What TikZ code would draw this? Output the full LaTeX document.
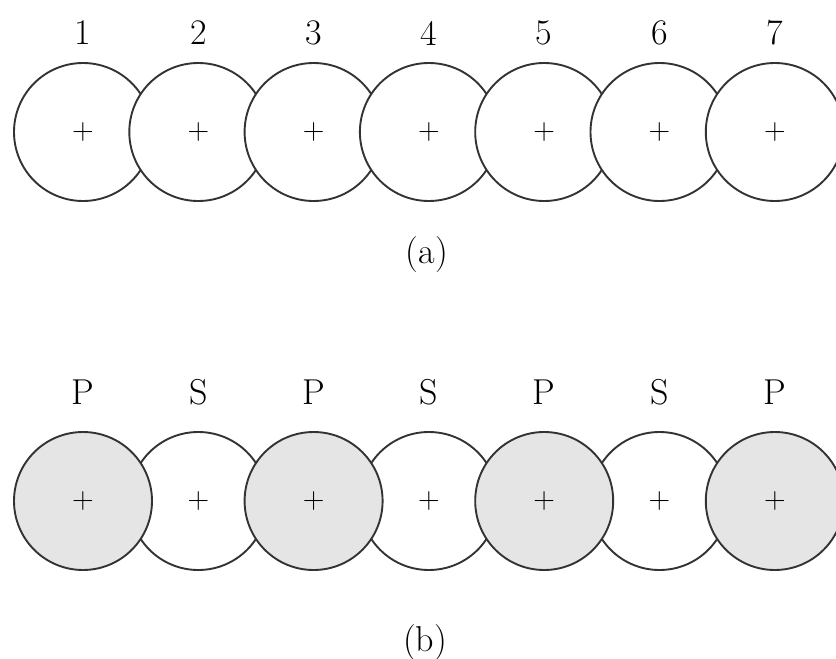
\documentclass[tikz,border=0pt]{standalone}
\begin{document}
\begin{tikzpicture}[x=0.5pt,y=-0.5pt,
  ball/.style={circle,draw=black!80,line width=0.95pt,minimum size=69pt,inner sep=0pt,fill=white},
  pball/.style={ball,fill=black!10},
  lab/.style={font=\fontsize{18}{21}\selectfont,inner sep=0pt},
  cross/.style={font=\fontsize{15}{18}\selectfont,inner sep=0pt}]
\useasboundingbox (0,0) rectangle (836,659);
% (a)
\foreach \i in {1,...,7}{
  \pgfmathsetmacro{\cx}{83+115.3*(\i-1)}
  \node[ball] (a\i) at (\cx,132) {};
  \node[cross] (ap\i) at (\cx,132) {+};
  \node[lab] (an\i) at (\cx,33) {\i};
}
\node[lab] (capa) at (427,255) {(a)};
% (b)
\foreach \i in {2,4,6}{
  \pgfmathsetmacro{\cx}{83+115.3*(\i-1)}
  \node[ball] (b\i) at (\cx,501) {};
  \node[cross] (bp\i) at (\cx,501) {+};
  \node[lab] (bn\i) at (\cx,392) {S};
}
\foreach \i in {1,3,5,7}{
  \pgfmathsetmacro{\cx}{83+115.3*(\i-1)}
  \node[pball] (b\i) at (\cx,501) {};
  \node[cross] (bp\i) at (\cx,501) {+};
  \node[lab] (bn\i) at (\cx,392) {P};
}
\node[lab] (capb) at (425,643) {(b)};
\end{tikzpicture}
\end{document}
